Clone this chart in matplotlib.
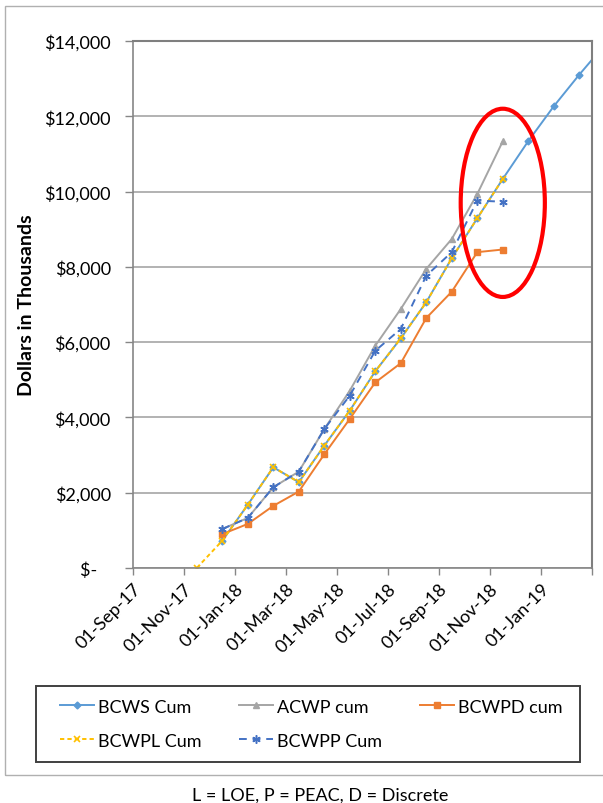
import numpy as np
import pandas as pd
import matplotlib
matplotlib.use("Agg")
import matplotlib.pyplot as plt
from matplotlib.patches import Ellipse, Rectangle

plt.rcParams['font.family'] = ['Lato', 'DejaVu Sans']

# Cumulative earned value data, $K, one value per month
bcws_months = pd.period_range('2017-12', '2019-03', freq='M')
bcws_cum = [725, 1680, 2675, 2280, 3250, 4180, 5225, 6100, 7060, 8230,
            9290, 10335, 11340, 12265, 13105, 13900]

perf_months = pd.period_range('2017-12', '2018-11', freq='M')
acwp_cum = [1035, 1330, 2145, 2560, 3690, 4710, 5905, 6880, 7945, 8740, 9935, 11335]
bcwpd_cum = [900, 1170, 1650, 2030, 3020, 3960, 4930, 5440, 6640, 7340, 8390, 8460]
bcwpp_cum = [1035, 1330, 2145, 2560, 3690, 4580, 5770, 6350, 7765, 8390, 9760, 9730]

bcwpl_months = pd.period_range('2017-11', '2018-11', freq='M')
bcwpl_cum = [0, 725, 1680, 2675, 2280, 3250, 4180, 5225, 6100, 7060, 8230, 9290, 10335]

tick_labels = ['01-Sep-17', '01-Nov-17', '01-Jan-18', '01-Mar-18', '01-May-18',
               '01-Jul-18', '01-Sep-18', '01-Nov-18', '01-Jan-19', '']
y_ticks = [0, 2000, 4000, 6000, 8000, 10000, 12000, 14000]

axis_start = pd.Period('2017-09', freq='M')


def month_pos(months):
    # points sit in the middle of each month slot
    return np.array([(m - axis_start).n for m in months]) + 0.5


fig = plt.figure(figsize=(6.03, 8.04), dpi=100)
ax = fig.add_axes([0.2206, 0.2923, 0.7612, 0.6555])

lw = 1.4
h_bcws, = ax.plot(month_pos(bcws_months), bcws_cum, color='#5B9BD5', lw=lw,
                  marker='D', ms=3.5, label='BCWS Cum')
h_acwp, = ax.plot(month_pos(perf_months), acwp_cum, color='#A5A5A5', lw=lw,
                  marker='^', ms=4.5, label='ACWP cum')
h_bcwpd, = ax.plot(month_pos(perf_months), bcwpd_cum, color='#ED7D31', lw=lw,
                   marker='s', ms=5, label='BCWPD cum')
h_bcwpl, = ax.plot(month_pos(bcwpl_months), bcwpl_cum, color='#FFC000', lw=lw,
                   ls=(0, (2.2, 1.6)), marker='x', ms=5, mew=1.2, label='BCWPL Cum')
h_bcwpp, = ax.plot(month_pos(perf_months), bcwpp_cum, color='#4472C4', lw=lw,
                   ls=(0, (4, 3)), marker=(6, 2, 0), ms=6, mew=1.1, label='BCWPP Cum')

# highlight the latest month
last_x = month_pos(perf_months)[-1]
ax.add_patch(Ellipse((last_x, 9700), width=3.3, height=5000, fill=False,
                     edgecolor='#FF0000', lw=3, zorder=10))

ax.set_xlim(0, 18)
ax.set_ylim(0, 14000)
ax.set_xticks(np.arange(0, 19, 2))
ax.set_xticklabels(tick_labels, rotation=45, ha='right', va='top',
                   rotation_mode='anchor', fontsize=13)
ax.set_yticks(y_ticks)
ax.set_yticklabels(['$-   ' if v == 0 else f'${v:,}' for v in y_ticks], fontsize=13)
ax.tick_params(axis='y', direction='out', length=6, width=1, color='#868686', pad=10)
ax.tick_params(axis='x', direction='out', length=5, width=1, color='#868686', pad=4)

ax.grid(axis='y', color='#a6a6a6', lw=1.2)
ax.set_axisbelow(True)
for side in ['left', 'bottom']:
    ax.spines[side].set_color('#868686')
    ax.spines[side].set_linewidth(1.2)
for side in ['top', 'right']:
    ax.spines[side].set_color('#7f7f7f')
    ax.spines[side].set_linewidth(1.5)

fig.text(27 / 603, 0.2923 + 0.6555 / 2, 'Dollars in Thousands', rotation=90,
         fontweight='bold', fontsize=14, ha='center', va='center')

# legend box
fig.add_artist(Rectangle((36 / 603, 1 - 762.7 / 804), 544 / 603, 76 / 804,
                         transform=fig.transFigure, fill=False,
                         edgecolor='#404040', lw=1.4))
fig.legend(handles=[h_bcws, h_bcwpl, h_acwp, h_bcwpp, h_bcwpd], ncol=3,
           loc='center', bbox_to_anchor=(60 / 603, 1 - 762.7 / 804, 502 / 603, 76 / 804),
           mode='expand', frameon=False, fontsize=13, handlelength=1.9,
           handletextpad=0.2, borderpad=0, borderaxespad=0, labelspacing=1.0)

# outer chart border
fig.add_artist(Rectangle((5 / 603, 1 - 776 / 804), 610 / 603, 769 / 804,
                         transform=fig.transFigure, fill=False,
                         edgecolor='#b0b0b0', lw=1))

fig.text(320 / 603, 1 - 796 / 804, 'L = LOE, P = PEAC, D = Discrete',
         ha='center', va='center', fontsize=13)

fig.savefig('out.png', dpi=100)
